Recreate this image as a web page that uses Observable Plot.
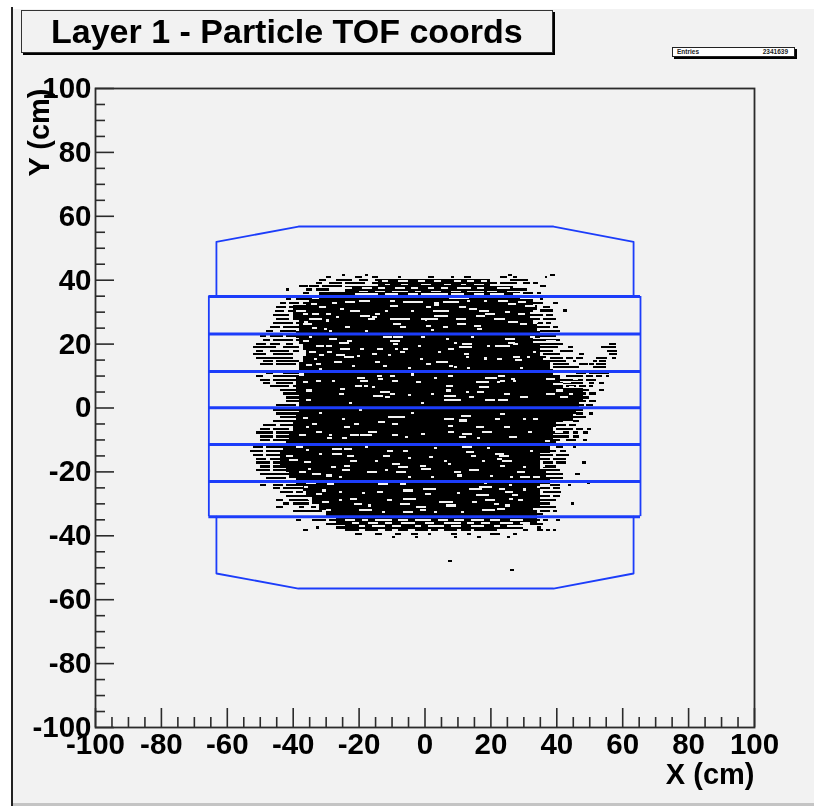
<!DOCTYPE html>
<html><head><meta charset="utf-8">
<script src="https://cdn.jsdelivr.net/npm/d3@7"></script>
<script src="https://cdn.jsdelivr.net/npm/@observablehq/plot@0.6"></script>
<style>
html,body{margin:0;padding:0;background:#fff;font-family:"Liberation Sans",sans-serif}
#page{position:relative;width:814px;height:806px;overflow:hidden;background:#fff}
#bg{position:absolute;left:13px;top:9px;width:801px;height:794px;background:#f2f2f2}
#edge{position:absolute;left:11px;top:7px;width:2px;height:799px;background:#222}
#foot{position:absolute;left:13px;top:803px;width:801px;height:3px;background:#c4c4c4}
#chart{position:absolute;left:0;top:0;filter:blur(.45px)}
#title{position:absolute;left:21px;top:10px;width:530px;height:41px;border:1.5px solid #333;box-shadow:2px 2px 0 #000;background:#f2f2f2;font-weight:bold;font-size:34px;line-height:40px;text-indent:29px;color:#000;white-space:nowrap;filter:blur(.3px)}
#stats{position:absolute;left:672px;top:47px;width:121px;height:8px;border:1.5px solid #222;box-shadow:2px 2px 0 #000;background:#fff;font-weight:bold;font-size:6.5px;line-height:8px;color:#222}
#stats span{position:absolute;top:0}
</style></head><body>
<div id="page"><div id="bg"></div><div id="edge"></div><div id="foot"></div><div id="chart"></div>
<div id="title">Layer 1 - Particle TOF coords</div>
<div id="stats"><span style="left:4px">Entries</span><span style="right:6px">2341639</span></div></div>
<script>
const majorTicks=[-100,-80,-60,-40,-20,0,20,40,60,80,100];
const minorTicks=[-95,-90,-85,-75,-70,-65,-55,-50,-45,-35,-30,-25,-15,-10,-5,5,10,15,25,30,35,45,50,55,65,70,75,85,90,95];

// solid part of the occupancy map: [y, xLeft, xRight]
const bodyRows=[[39,-14,20],[37,-24,27],[35,-32,29],[33,-36,33],[31,-40,34],[29,-40,32],[27,-38,33],[25,-38,34],[23,-39,35],[21,-38,33],[19,-37,35],[17,-36,35],[15,-37,37],[13,-38,38],[11,-38,39],[9,-39,41],[7,-39,42],[5,-39,48],[3,-38,48],[1,-38,47],[-1,-38,46],[-3,-39,45],[-5,-40,40],[-7,-40,39],[-9,-41,39],[-11,-42,40],[-13,-43,38],[-15,-44,35],[-17,-44,35],[-19,-42,35],[-21,-41,37],[-23,-39,38],[-25,-37,35],[-27,-36,35],[-29,-34,35],[-31,-32,35],[-33,-30,34],[-35,-27,34],[-37,-24,30]];

// black flecks around the edge: [y, x, width, x, width, ...]
const blackRows=[
[41.2,-25,1,-18,1,38,1.5,25.4,1.2],[40.5,-30,1.5,-21,2,-16,2,-8,1,1,2,8,1,12,2,36.5,.8,23,2,27,1],[39.5,-32,2,-27,5,-20,3,-15,3,-10,1,-5,2,0,4,6,1.5,10,3,15,1,18,2,26,4,30,1.5],[38.6,-33,2,-29,4,-24,6,-16,5,-10,3,-5,4,1,2,5,4,11,4,16,2,19,3,23,5,30,2,33,1.5],
[37.6,-38,2.5,-35,3,-31,6,35,2],[36.6,-42,1,-36,2,-33,4,22,9],[35.6,-37,2,30,3,34,1.5],
[33.5,-42,1.5,-39,5,35,1],[32.3,-44,2,-41,3,-37,3,33,3,39,1.5],[31,-45,3,-41,2,-38,2,36,2],[30,42,1.3,35,3,38,1],[29.8,-45.5,3,-41.5,2,33,3,37,1.5],[28.5,-46,5,-39,2,32,4,37,2],[27.3,-45,4,-40,3,33,2,36,4],[26,-46,2,-44,4,-39,3,34,2,37,1.5],[24.8,-47,3,-43,6,33,5,39,1.5],[23.7,-48,2,-44,5,35,6],
[22,-50,2,-47,4,-42,5,35,5],[20.8,-49,2,-46,6,-39,3,33,8],[19.6,-51,3,-47,3,-42,2,33,9,40,2,56,2],[18.5,-52,3,-49,4,-43,5,35,10,53.5,2.5,56,2],[17.4,-51,2,-47,6,-40,2,34,5,41,4,55.5,3],[16.3,-52,4,-46,6,36,5,47,1.5,56,2.5],[15.2,-51,3,-48,8,38,4,43,2,46,2,52,3.5,57,1],[14.2,-49,3,-45,7,-37,2,37,6,45,1,51,1.5,53,2],[13.3,-50,4,-45,6,39,5,47,2.5,50,1.5,52,3],[12.3,39,8,51,4],
[10.4,-48,2,-43,5,46,3,50,3,53,3],[9.4,-51,2,-46,4,-42,4,41,7,49,2,52,2,55,1],[8.3,-50,3,-46,8,40,8,49,3],[7.3,-49,2,-45,5,-39,2,42,6,50,1.5,53,1.5],[6.3,-47,6,-40,2,43,3,47,2,50,1],[5.2,-44,6,48,2,53,1.5],[4,-43,7,47,2,50,2],[2.8,-42,6,47,3],[1.6,-42,4,47,2,50,2],[.5,-45,6,47,1.5,49,2],
[-1,-46,8,44,4],[-2.2,-45,7,46,2,50,1],[-3.4,-44,5,45,2,47,2],[-4.6,-46,6,40,2,45,2],[-5.8,-49,4,-44,4,39,4,44,2],[-7,-50,3,-46,5,40,5,46,2,49.4,1],[-8.2,-51,5,-45,5,38,6,45,1.5,48,1.5],[-9.4,-50,4,-45,4,39,5,45,2],[-10.6,-50,3,-46,4,39,2,43,3,48,1.2],
[-12.8,-52,3,-48,6,40,2,45,1],[-14,-53,4,-48,6,36,4,41,2],[-15.2,-52,3,-48,4,35,4,40,4],[-16.4,-51,3,-47,3,35,3,39,4],[-17.6,-51,4,-46,5,36,3,40,3,47.9,1],[-18.8,-50,3,-46,5,36,4],[-20,-51,4,-46,6,35,6],[-21.2,-50,5,-45,5,36,6,45.6,1.5],[-22.4,-48,6,38,4],
[-23.8,49.2,1],[-24.6,-50,2,-46,3,-42,5,38,3,43.4,1],[-25.6,-46,2,-43,6,35,3,39,2],[-26.8,-44,4,-39,2,36,4,40,1.5],[-28,-42,6,35,3,39,2],[-29.2,-45,2,-41,6,35,5],[-30.4,-43,2,-40,5,35,3,44.4,1],[-31.6,-45,2,-38,5,35,5],[-32.8,-40,3,-37,4,-34,3,35,3,39,1.2],[-33.8,34,2],
[-35.6,-39,1.5,-34,4,-29,2,33,2,36,1.5,40,1],[-36.7,-30,5,-26,3,32,4],[-37.9,-33,1,-27,5,34,1.5],[-38.8,-37,1.5,-24,4,-18,4,-12,2,-8,3,-3,4,2,2,6,4,11,3,15,4,19,3,30,1.5,34,2,37,1,39,1],[-39.9,-21,2,-15,2,-9,2,-4,2,1,1,8,2,13,1,20,2,22,1,27,1],[-41,-10,1,-3,1,9,1,16,1,25,1],
[-48.4,7.2,1.2],[-51.2,26,1.3]];

// pale gaps along the top and bottom rims: [y, x, width, x, width, ...]
const rimGapRows=[
[39.2,-13,2,-8,3,-2,2,3,2,9,2,13,2,17,2],[38.2,-12,1.5,-7,2,-1,3,6,2,11,1.5,15,3],
[37,-24,2,-19,3,-14,2,-9,3,-4,2,1,2,5,2,10,4,16,2,22,4],[36,-28,2,-20,3,-15,3,-10,5,-3,2,2,3,8,3,13,5,19,3,25,2],[35.2,-21,5,-16,2,-12,4,-5,3,-1,8,8,4,15,3,20,4,27,3],
[-35.5,-24,3,-19,2,-15,5,-8,3,-3,5,4,3,9,3,14,4,20,3,26,4],[-36.5,-22,2,-17,3,-12,2,-7,4,0,3,6,5,13,2,17,3,23,4,29,3],[-37.5,-20,2,-16,4,-10,3,-3,2,1,5,8,3,14,4,21,2,25,5]];

// pale gaps inside the map, read one by one: [x, y, width]
const gapFlecks=[
[-10.5,31.5,2.5],[-10.5,33,1.5],[-6.5,32.6,4],[-3.5,32.6,3],[3,32.5,1.5],[3,31.8,1.5],[5.5,32.6,5],[7.5,34,6],[2.5,30,5],[.5,31,1.5],[10.5,31,2],[13.5,30.5,2.5],[16.5,30,3],[18.5,29,3],[-15,29,1.5],[-16,28,1.5],[-10.5,27.4,4.5],[-6.5,27.4,2],[-1,27.4,5],[3,28.4,4],[9.5,27.4,3],[15.5,28.4,3],[-9.5,25.8,2.5],[-7.5,24.8,2],[.5,25.3,1.5],[5.5,24.8,1.5],[10,25.8,2.5],[15,25.3,2],[16,24.2,1.5],[21,27.4,2],
[-12.5,21.6,2.5],[-9.5,21.6,3],[-10.5,20.6,3],[-9.5,19.5,1.5],[-9,18,1],[-6.5,18,1.5],[-7.5,17,1.5],[-14.5,18,2],[-16,16.4,1.5],[-1,21.6,1],[6.5,21,1],[14,21.6,1],[11.5,19.5,3],[10.5,18.5,2.5],[12.5,18.5,2],[7,18,2],[12,16.4,1.5],[21.5,19,2],[19,19,1],[-1.5,14.9,1],[.5,13.3,1.5],[3.5,14,3.5],[-12.5,12.8,1],[7.5,12.8,1],[12.5,15.4,1],[-15,13.8,1.5],
[-14.5,9.6,1.5],[-14,8.6,1.5],[-10.5,9.6,1.5],[-10,8,2],[7,9.6,1.5],[15.5,7.6,4],[16.5,6,3],[16,4.5,2],[18.5,9,2],[20.5,9,1.5],[22,7.6,1],[-2.5,7.6,1.5],[6.5,6.5,2],[6.5,5,1.5],[-13.5,4.5,3],[-15.5,3.4,3],[-12,3,1.5],[-10.5,4,1.5],[-5,3.7,1],[6,3.4,3.5],[6,2,5],[12.5,4.5,1],[13.5,3,1.5],[18.5,2,3],
[-36.5,33,1.5],[-34.5,32,2],[-34,29,2],[-30,29,1.5],[-24,32.6,3],[-20,33,3.5],[-22.5,30,3],[-19.5,28.4,3],[-17,27.4,2],[-27,27.9,1],[-30,26.9,1],[-25.5,30.5,1],[-36.5,26.4,1],[-30.5,24.2,1],[-24,24.8,1.5],
[-35,21.6,1],[-29,21,2.5],[-26,20,3],[-23.5,20.6,1.5],[-30,19,2],[-25.5,18,3],[-29.5,17,1.5],[-27,16,3],[-24.5,15.4,3],[-27.5,13.8,2.5],[-33.5,14.9,1],[-33,13.3,1.5],[-19.5,18,1],[-20.5,15.7,1],
[-38,10,1.5],[-37,7.6,1.5],[-20.5,9,2.5],[-19.5,8,2.5],[-21,6.5,2],[-18.5,6.5,1.5],[-25.5,5.5,1.5],[-26,4,1.5],
[22.4,33,3],[25.4,32,2.5],[28.4,32.6,2.5],[30.4,31.5,3],[24.4,29.5,1.5],[28.4,29,2],[33,30,2],[22.4,27.4,2],[25.4,26.4,3],[29,25.8,2],[32.4,28,2],[33,26.4,1.5],
[24.4,21,3],[25.4,20,2],[23,19,3],[27,19.5,1.5],[32,21.6,1.5],[37,20.6,3],[40.5,18.5,3],[22,14.9,1.5],[27,15.4,2],[27.5,14.4,2],[31,15.4,1],[36,14.9,1.5],
[22.4,9.6,2],[23,8,1.5],[26.4,8.6,1],[37,8.6,2.5],[39,7,3],[41,9.6,2],[42,7.6,2.5],[44,6,1.5],[45,8.6,1.5],[40,5,2],[37,4,2.5],[41,3,2.5],[44,4,1],[24,4,2],[22.4,2,3],[29,3,2.5],
[-25,-3.9,1],[-24.5,-6.5,2],[-21.5,-5.5,1.5],[-22.5,-9,2.5],[-19.5,-9,3.5],[-17,-8,2.5],[-29.5,-10,1.5],[-25,-10,1.5],[-36,-6.5,1],
[-28,-13.2,3],[-28,-14.8,3],[-24.5,-13.2,2.5],[-23.5,-15.4,2],[-22.5,-17,2],[-24.5,-18.5,2],[-25,-20,2.5],[-28.5,-19,1.5],[-36.5,-17.4,2],[-41,-16.9,2.5],[-42,-15.4,2],[-34,-21,2.5],[-30,-21.6,2],[-17.5,-20.5,2.5],[-35.5,-19.5,1],
[-29.5,-24.2,2],[-36.5,-25.2,1],[-31,-26.3,1],[-26,-26.8,1],[-35.5,-29,1.5],[-22.5,-29,2],[-21.5,-30.5,2.5],[-26,-29.4,1],[-20,-32.5,4],[-30,-32.5,1.5],[-36.5,-31.5,2],
[-11,-3.4,5],[-10,-5.5,2],[-14,-5,2],[6,-3.9,3],[7,-6,1.5],[11,-2.9,3],[10.5,-4.4,2.5],[11.5,-8.6,3],[10.5,-9.6,2],[17.5,-8,3],[15.5,-6.5,2.5],[21.5,-3.9,1.5],[-10,-9,2],[7,-8,2],[-1,-8.6,1],[-6,-9.6,1],
[-11.5,-13.8,2],[-6.5,-13.8,1.5],[1.5,-15.9,1],[11.5,-12.8,3],[12.5,-14.3,2.5],[14,-15.4,1.5],[21.5,-14.8,2.5],[22,-16.4,1.5],[-12.5,-15.4,2],[-10,-18,2.5],[-8,-19,3],[-8.5,-20.5,3],[-1.5,-18.5,2],[-1,-19.5,3],[-16,-20.5,1.5],[7,-18,1],[9,-20.5,2],[13.5,-20,3],[10,-21.6,1.5],[17.5,-17,1],
[-14,-24.2,3],[-7.5,-24.2,2],[13.5,-25.8,4],[16.5,-25.3,4],[-6.5,-26.3,3],[-.5,-25.8,4],[0,-27.3,2],[15.5,-27.8,4],[18.5,-29.4,3],[14.5,-30,1.5],[-6.5,-28.9,4],[-7.5,-30.5,3],[4.5,-30,4],[6.5,-31,2],[-2.5,-31.5,3],[-1.5,-32.5,2],[-11.5,-29.4,1.5],[-14.5,-26.8,2],[17.5,-32.5,4],[-6.5,-33,3],[21,-30.5,1.5],[8.5,-31,1],
[23,-2.3,1.5],[33,-3.9,1.5],[24,-6.5,2],[31.5,-8,1],[25.5,-9.6,2.5],[36.5,-10.7,1.5],[39.5,-8,2.5],
[22.5,-15.4,3],[23.5,-17,3],[23,-18.5,1.5],[28,-20.5,2.5],[29,-22,3],[33,-22,2],[35,-18.5,1.5],
[22.5,-25.8,2],[24.5,-26.8,2.5],[26.5,-27.8,2],[28.5,-29.4,1.5],[25.5,-24.7,1],[34,-25.2,1],[22,-32,2.5],[25.5,-28.9,1.5],[33,-32,2],[24.5,-31,1.5],
[-39,30,3],[-37,29,1.5],[-35,27.4,4],[-37,25.7,3],[-34,24.6,1.5],[-32,31,2],[-28,32.5,1.5],[-37,20.6,2],[-33,18.8,2.5],[-35,17,2],[-32,16,1.5],[-36,13,2],[-32,11.8,1],[-36,5,2],[-33,8,1.5],[-36,2,1.5],[-32,-2,1],[-37,-3.5,1.5],[-34,-5.5,1.5],[-38,-8.8,2],[-33,-8,2],[-39,-12.8,2],[-36,-13.5,1],[-38,-20.5,2],[-36,-23.9,3],[-33,-27.5,2],[-31,-29.8,2]];

// single-bin pale specks: [x, y]
const specks=[[-28,8],[-23,1],[-20,-1],[-16,6],[-5,12],[-2,19],[2,23.8],[4,17],[9,20],[13,12],[18,15],[-4,-2],[-1,1],[2,4],[3,9],[9,12.4],[-18,-12.8],[-15,-17],[-12,-20],[-5,-22],[3,-13],[6,-17],[16,-10],[19,-13],[26,-12],[30,-4],[29,12],[33,17],[34,24],[32,-14],[30,-19],[20,-21.8],[-32,-15],[-29,-9],[-26,-22],[-19,-27],[-5,-16],[2,-22],[18,-23.9],[10,-27],[3,-33],[-17,-31],[-13,-33],[11,-33],[26,-22],[30,-26],[-4,10],[-11,16],[-18,23.7],[-12,30],[0,27],[13,33],[-4,30],[18,33],[-29,23.7],[-22,12.8],[27,8]];

// TOF paddle outline, cm
const paddleX=[-65.6,65.4];
const paddleY=[34.9,23.2,11.4,0.1,-11.4,-23,-34];
const topOutline=[[-63.3,34.9],[-63.3,52],[-38.4,56.8],[39,56.8],[63.3,52],[63.3,34.9]];
const bottomOutline=[[-63.3,-34],[-63.3,-51.8],[-38.4,-56.5],[39,-56.5],[63.3,-51.8],[63.3,-34]];

const spans=(rows,h)=>rows.flatMap(([y,...r])=>{const o=[];for(let i=0;i<r.length;i+=2)o.push({x1:r[i],x2:r[i]+r[i+1],y1:y,y2:y+h});return o;});
const body=bodyRows.map(([y,a,b])=>({x1:a,x2:b,y1:y-1.1,y2:y+1.1}));
const gaps=[...spans(rimGapRows,.6),...gapFlecks.map(([x,y,w])=>({x1:x,x2:x+w,y1:y,y2:y+.65})),...specks.map(([x,y])=>({x1:x,x2:x+.9,y1:y,y2:y+.65}))];
const blue="#1c3dfa", ink="#2b2b2b", font="Liberation Sans";
const tickOpts={fontSize:29.5,fontWeight:"bold",fill:"#000",tickSize:0,tickFormat:d=>String(d),label:null};
const W=814,H=806,mL=95,mR=60,mT=88,mB=79;
const box={x1:"x1",x2:"x2",y1:"y1",y2:"y2",shapeRendering:"crispEdges"};

document.getElementById("chart").append(Plot.plot({
  width:W,height:H,marginLeft:mL,marginRight:mR,marginTop:mT,marginBottom:mB,
  style:{background:"transparent",fontFamily:font},
  x:{domain:[-100,100]},y:{domain:[-100,100]},
  marks:[
    Plot.rect(body,{...box,fill:"#000"}),
    Plot.rect(spans(blackRows,.7),{...box,fill:"#000"}),
    Plot.rect(gaps,{...box,fill:"#f2f2f2"}),
    Plot.line(topOutline,{x:d=>d[0],y:d=>d[1],stroke:blue,strokeWidth:1.8}),
    Plot.line(bottomOutline,{x:d=>d[0],y:d=>d[1],stroke:blue,strokeWidth:1.8}),
    Plot.ruleX(paddleX,{x:d=>d,y1:paddleY[6],y2:paddleY[0],stroke:blue,strokeWidth:1.8}),
    Plot.ruleY(paddleY,{y:d=>d,x1:paddleX[0],x2:paddleX[1],stroke:blue,strokeWidth:3}),
    Plot.tickX(majorTicks,{x:d=>d,insetTop:H-mT-mB-19,stroke:ink,strokeWidth:1.6}),
    Plot.tickX(minorTicks,{x:d=>d,insetTop:H-mT-mB-10,stroke:ink,strokeWidth:1.6}),
    Plot.tickY(majorTicks,{y:d=>d,insetRight:W-mL-mR-19,stroke:ink,strokeWidth:1.6}),
    Plot.tickY(minorTicks,{y:d=>d,insetRight:W-mL-mR-10,stroke:ink,strokeWidth:1.6}),
    Plot.frame({stroke:ink,strokeWidth:1.8}),
    Plot.axisX(majorTicks,{anchor:"bottom",tickPadding:6,...tickOpts}),
    Plot.axisY(majorTicks,{anchor:"left",tickPadding:4,...tickOpts}),
    Plot.text(["X (cm)"],{frameAnchor:"bottom-right",dy:56,textAnchor:"end",fontSize:29,fontWeight:"bold",fill:"#000"}),
    Plot.text(["Y (cm)"],{frameAnchor:"top-left",dx:-67,dy:0,rotate:-90,textAnchor:"end",fontSize:29,fontWeight:"bold",fill:"#000"})
  ]
}));
</script></body></html>
